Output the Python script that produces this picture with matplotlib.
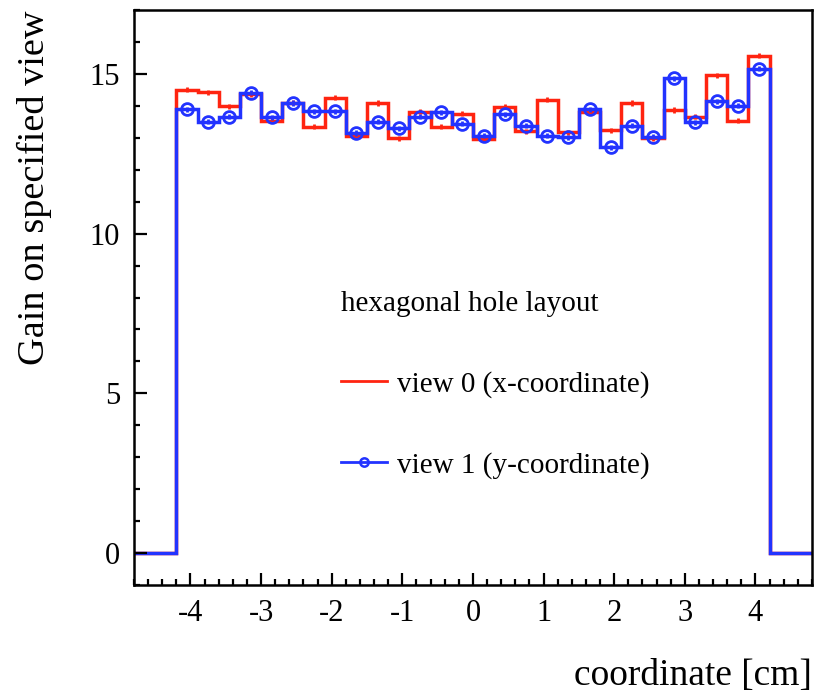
import numpy as np
import matplotlib
matplotlib.use("Agg")
import matplotlib.pyplot as plt
from matplotlib.lines import Line2D
from matplotlib.ticker import MultipleLocator

# binning: 32 bins of 0.3 cm from -4.8 to 4.8
bin_edges = np.round(np.arange(-4.8, 4.8001, 0.3), 2)

# gain per bin, view 0 (x-coordinate)
gain_view0 = [0, 0, 14.51, 14.43, 13.99, 14.37, 13.54, 14.10, 13.35, 14.25,
              13.07, 14.09, 12.99, 13.82, 13.35, 13.75, 12.95, 13.98, 13.20, 14.19,
              13.18, 13.82, 13.23, 14.09, 12.99, 13.87, 13.66, 14.96, 13.54, 15.57,
              0, 0]
# gain per bin, view 1 (y-coordinate)
gain_view1 = [0, 0, 13.90, 13.51, 13.66, 14.41, 13.64, 14.09, 13.83, 13.83,
              13.15, 13.50, 13.30, 13.66, 13.80, 13.44, 13.07, 13.73, 13.38, 13.07,
              13.02, 13.90, 12.71, 13.38, 13.04, 14.87, 13.48, 14.14, 14.01, 15.16,
              0, 0]
gain_err = 0.08

legend_title = "hexagonal hole layout"
labels = ["view 0 (x-coordinate)", "view 1 (y-coordinate)"]

RED = "#ff2410"
BLUE = "#2233ff"

plt.rcParams["font.family"] = ["Liberation Serif", "DejaVu Serif"]

fig = plt.figure(figsize=(8.15, 6.92), dpi=100)
ax = fig.add_axes([0.1644, 0.1546, 0.8319, 0.8309])

centers = 0.5 * (bin_edges[:-1] + bin_edges[1:])
v0 = np.array(gain_view0, dtype=float)
v1 = np.array(gain_view1, dtype=float)
filled = v0 > 0

# view 0: step line + small error bars
ax.stairs(v0, bin_edges, baseline=None, color=RED, lw=2.5)
ax.errorbar(centers[filled], v0[filled], yerr=gain_err, fmt="none",
            ecolor=RED, elinewidth=2, capsize=0)

# view 1: step line + open circles (line visible through them)
ax.stairs(v1, bin_edges, baseline=None, color=BLUE, lw=2.5)
ax.errorbar(centers[filled], v1[filled], yerr=gain_err, fmt="o", color=BLUE,
            mfc="none", mec=BLUE, mew=2, ms=8.5, elinewidth=2, capsize=0)

ax.set_xlim(-4.8, 4.8)
ax.set_ylim(-1, 17)
ax.xaxis.set_major_locator(MultipleLocator(1))
ax.xaxis.set_minor_locator(MultipleLocator(0.2))
ax.yaxis.set_major_locator(MultipleLocator(5))
ax.yaxis.set_minor_locator(MultipleLocator(1))
ax.tick_params(which="both", direction="in", width=1.6, top=False, right=False,
               labelsize=22)
ax.tick_params(which="major", length=9)
ax.tick_params(which="minor", length=4.5)
ax.tick_params(axis="x", which="major", pad=10)
ax.tick_params(axis="y", which="major", pad=10)
for s in ax.spines.values():
    s.set_linewidth(1.8)

ax.set_xticklabels([f"{int(t)}" for t in ax.get_xticks()])

ax.set_xlabel("coordinate [cm]", fontsize=27, loc="right", labelpad=22)
ax.set_ylabel("Gain on specified view", fontsize=27.5, loc="top", labelpad=27)

# legend
handles = [Line2D([], [], color=RED, lw=2),
           Line2D([], [], color=BLUE, lw=2, marker="o", mfc="none", mew=1.8, ms=6)]
leg = ax.legend(handles, labels, title=legend_title, loc="upper left",
                bbox_to_anchor=(0.296, 0.522), frameon=False, fontsize=21,
                title_fontsize=21, alignment="left", handlelength=1.6,
                handletextpad=0.35, labelspacing=1.85, borderpad=0.2,
                borderaxespad=0)

fig.savefig("out.png", dpi=100)
